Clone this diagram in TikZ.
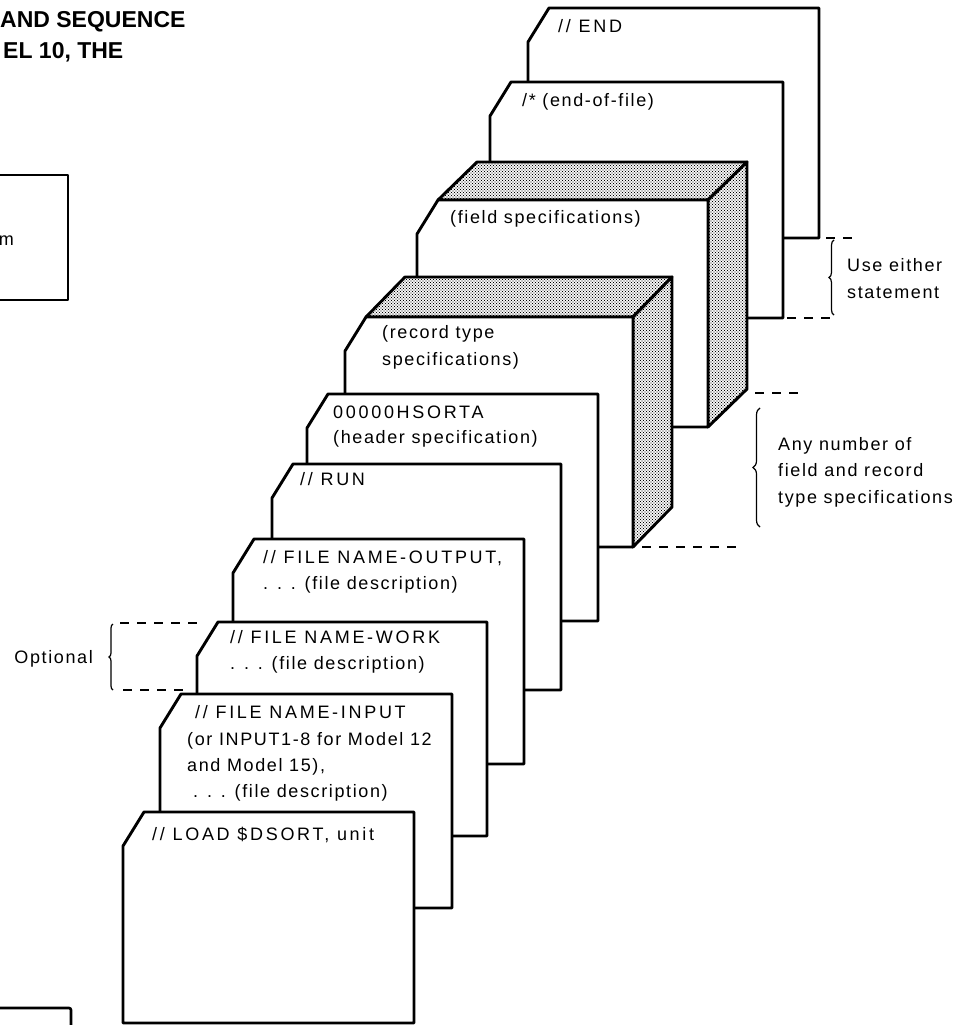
\documentclass[tikz,border=0pt]{standalone}
\usepackage{fontspec}
\setmainfont{Liberation Sans}[LetterSpace=9]
\newfontfamily\ttlfont{Liberation Sans}
\usetikzlibrary{patterns,decorations.pathreplacing}
\pgfdeclarepatternformonly{stipple}{\pgfqpoint{-0.8pt}{-0.8pt}}{\pgfqpoint{2.2pt}{2.2pt}}{\pgfqpoint{3pt}{3pt}}{%
  \pgfpathcircle{\pgfqpoint{0pt}{0pt}}{0.62pt}%
  \pgfpathcircle{\pgfqpoint{1.5pt}{1.5pt}}{0.62pt}%
  \pgfusepath{fill}}
\newcommand\mkcard[4]{%
  \draw[card] (#1,#2+34) -- (#1+21,#2) -- (#3,#2) -- (#3,#4) -- (#1,#4) -- cycle;}
\newcommand\mkbox[6]{%
  \draw[shadeface] (#1+21,#2) -- (#1+21+#5,#2-#6) -- (#3+#5,#2-#6) -- (#3,#2) -- cycle;
  \draw[shadeface] (#3,#2) -- (#3+#5,#2-#6) -- (#3+#5,#4-#6) -- (#3,#4) -- cycle;
  \mkcard{#1}{#2}{#3}{#4}}
\begin{document}
\begin{tikzpicture}[x=1pt,y=-1pt,
  card/.style={draw=black,fill=white,line width=2.9pt,line join=round},
  shadeface/.style={draw=black,line width=2.9pt,line join=round,
    preaction={fill=white},pattern=stipple,pattern color=black},
  txt/.style={anchor=base west,inner sep=0pt,font=\fontsize{18}{22}\selectfont},
  captxt/.style={anchor=base west,inner sep=0pt,font=\addfontfeatures{LetterSpace=15}\fontsize{18}{22}\selectfont},
  ttl/.style={anchor=base west,inner sep=0pt,font=\ttlfont\bfseries\fontsize{23}{28}\selectfont},
  guide/.style={draw=black,line width=1.3pt,dash pattern=on 9pt off 8pt},
  bracemark/.style={draw=black,line width=1.2pt,decorate,decoration={brace,amplitude=#1}},
  bracemark/.default=5pt]
\useasboundingbox (0,0) rectangle (964,1025);

% title fragments and cut-off boxes at the left
\node[ttl] (t1) at (0,28) {AND SEQUENCE};
\node[ttl] (t2) at (3,59) {EL 10, THE};
\draw[line width=2.6pt,line join=round] (-5,175) -- (68,175) -- (68,300) -- (-5,300);
\node[txt,anchor=base east] (mm) at (14,245) {m};
\draw[line width=2.6pt,rounded corners=2pt] (-5,1008) -- (71,1008) -- (71,1035);

% cards, back to front
\mkcard{528}{8}{819}{238}
\node[captxt] (cend) at (558,33) {// END};
\mkcard{490}{82}{783}{318}
\node[txt] (ceof) at (522,106) {/* (end-of-file)};
\mkbox{417}{200}{708}{427}{39}{38}
\node[txt] (cfld) at (450,223) {(field specifications)};
\mkbox{345}{317}{633}{547}{39}{40}
\node[txt] (crec1) at (382,338) {(record type};
\node[txt] (crec2) at (382,365) {specifications)};
\mkcard{307}{394}{598}{621}
\node[captxt] (chdr1) at (333,418) {00000HSORTA};
\node[txt] (chdr2) at (333,443) {(header specification)};
\mkcard{272}{464}{561}{690}
\node[captxt] (crun) at (300,485) {// RUN};
\mkcard{233}{539}{524}{764}
\node[captxt] (cout1) at (263,563) {// FILE NAME-OUTPUT,};
\node[txt] (cout2) at (263,589) {. . . (file description)};
\mkcard{197}{622}{487}{836}
\node[captxt] (cwrk1) at (230,643) {// FILE NAME-WORK};
\node[txt] (cwrk2) at (230,669) {. . . (file description)};
\mkcard{160}{694}{452}{908}
\node[captxt] (cin1) at (195,718) {// FILE NAME-INPUT};
\node[txt] (cin2) at (187,745) {(or INPUT1-8 for Model 12};
\node[txt] (cin3) at (187,771) {and Model 15),};
\node[txt] (cin4) at (193,797) {. . . (file description)};
\mkcard{123}{812}{414}{1023}
\node[captxt] (cld) at (152,840) {// LOAD \$DSORT, unit};

% "Use either statement"
\coordinate (ua) at (826,238); \coordinate (ub) at (859,238);
\coordinate (uc) at (787,318); \coordinate (ud) at (832,318);
\draw[guide] (ua) -- (ub);
\draw[guide] (uc) -- (ud);
\coordinate (ue) at (834,315); \coordinate (uf) at (834,240);
\draw[bracemark=5pt] (ue) -- (uf);
\node[txt] (use1) at (847,271) {Use either};
\node[txt] (use2) at (847,298) {statement};

% "Any number of ..."
\coordinate (aa) at (755,393); \coordinate (ab) at (804,393);
\coordinate (ac) at (642,547); \coordinate (ad) at (739,547);
\draw[guide] (aa) -- (ab);
\draw[guide] (ac) -- (ad);
\coordinate (ae) at (760,527); \coordinate (af) at (760,408);
\draw[bracemark=7pt] (ae) -- (af);
\node[txt] (any1) at (778,450) {Any number of};
\node[txt] (any2) at (778,476) {field and record};
\node[txt] (any3) at (778,503) {type specifications};

% "Optional"
\coordinate (oa) at (120,623); \coordinate (ob) at (201,623);
\coordinate (oc) at (123,690); \coordinate (od) at (183,690);
\draw[guide] (oa) -- (ob);
\draw[guide] (oc) -- (od);
\coordinate (oe) at (113,690); \coordinate (of) at (113,624);
\draw[bracemark=4pt] (oe) -- (of);
\node[txt,anchor=base east] (opt) at (93,663) {Optional};
\end{tikzpicture}
\end{document}
